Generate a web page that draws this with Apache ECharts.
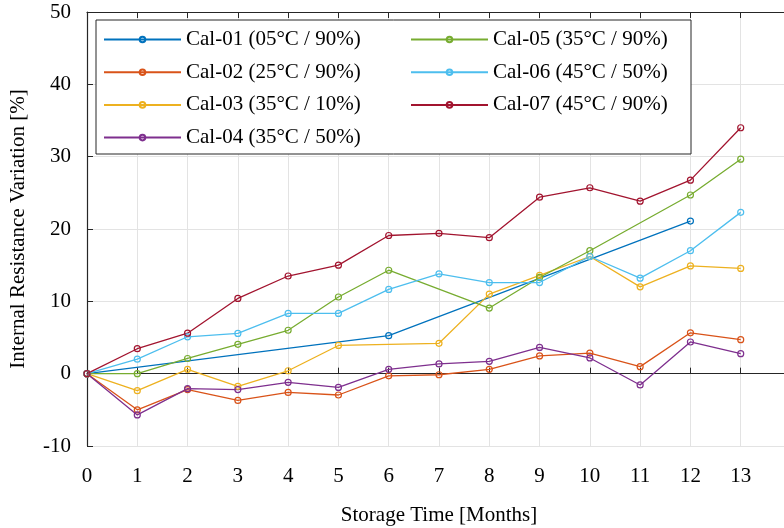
<!DOCTYPE html>
<html>
<head>
<meta charset="utf-8">
<script src="https://cdn.jsdelivr.net/npm/echarts@6/dist/echarts.min.js"></script>
<style>
  html, body { margin: 0; padding: 0; background: #fff; }
  #chart { width: 784px; height: 528px; }
</style>
</head>
<body>
<div id="chart"></div>
<script>
// months 0..13, null = no measurement that month
const months = [0, 1, 2, 3, 4, 5, 6, 7, 8, 9, 10, 11, 12, 13];
const names = [
  "Cal-01 (05°C / 90%)",
  "Cal-02 (25°C / 90%)",
  "Cal-03 (35°C / 10%)",
  "Cal-04 (35°C / 50%)",
  "Cal-05 (35°C / 90%)",
  "Cal-06 (45°C / 50%)",
  "Cal-07 (45°C / 90%)",
];
const colors = ["#0072BD", "#D95319", "#EDB120", "#7E2F8E", "#77AC30", "#4DBEEE", "#A2142F"];

const cal01 = [0, null, null, null, null, null, 5.25, null, null, null, null, null, 21.1, null];
const cal02 = [0, -5.0, -2.2, -3.7, -2.6, -2.95, -0.3, -0.15, 0.6, 2.45, 2.85, 0.97, 5.65, 4.7];
const cal03 = [0, -2.35, 0.6, -1.75, 0.4, 3.9, null, 4.2, 11.0, 13.6, 16.2, 12.0, 14.9, 14.55];
const cal04 = [0, -5.7, -2.07, -2.2, -1.2, -1.9, 0.6, 1.34, 1.7, 3.63, 2.17, -1.56, 4.38, 2.76];
const cal05 = [0, 0, 2.1, 4.05, 6.0, 10.6, 14.3, null, 9.07, 13.3, 17.0, null, 24.7, 29.65];
const cal06 = [0, 2.0, 5.1, 5.57, 8.33, 8.33, 11.65, 13.8, 12.6, 12.6, 16.2, 13.2, 17.0, 22.3];
const cal07 = [0, 3.45, 5.6, 10.4, 13.5, 15.0, 19.1, 19.4, 18.8, 24.4, 25.7, 23.85, 26.75, 34.0];

const yTicks = [-10, 0, 10, 20, 30, 40, 50];

const allValues = [cal01, cal02, cal03, cal04, cal05, cal06, cal07];
const font = "'Liberation Serif', 'DejaVu Serif', serif";
const axisColor = "#262626";

function pairs(vals) {
  const out = [];
  vals.forEach((v, i) => {
    if (v !== null) out.push([months[i], v]);
  });
  return out;
}

const series = allValues.map((vals, i) => ({
  name: names[i],
  type: "line",
  data: pairs(vals),
  symbol: "circle",
  symbolSize: 6,
  showSymbol: true,
  lineStyle: { color: colors[i], width: 1.3 },
  itemStyle: { color: "rgba(255,255,255,0)", borderColor: colors[i], borderWidth: 1.2 },
  emphasis: { disabled: true },
  animation: false,
}));

const legendCommon = {
  orient: "vertical",
  itemWidth: 77,
  itemHeight: 7,
  itemGap: 11.7,
  textStyle: { fontFamily: font, fontSize: 21, color: "#000", lineHeight: 20 },
  selectedMode: false,
};

const chart = echarts.init(document.getElementById("chart"));
chart.setOption({
  backgroundColor: "#fff",
  grid: { left: 87, top: 12, width: 704, height: 434, outerBoundsMode: "none", containLabel: false },
  graphic: [
    {
      type: "rect",
      z: 3,
      shape: { x: 96, y: 20, width: 595, height: 134 },
      style: { fill: "#fff", stroke: axisColor, lineWidth: 1 },
    },
  ],
  legend: [
    Object.assign({ left: 98, top: 24, data: names.slice(0, 4) }, legendCommon),
    Object.assign({ left: 405, top: 24, data: names.slice(4) }, legendCommon),
  ],
  xAxis: [
    {
      type: "value",
      min: 0,
      max: 14,
      interval: 1,
      name: "Storage Time [Months]",
      nameLocation: "middle",
      nameGap: 59,
      nameTextStyle: { fontFamily: font, fontSize: 21, color: "#000" },
      axisLine: { lineStyle: { color: axisColor, width: 1.2 } },
      axisTick: { inside: true, length: 6, lineStyle: { color: axisColor } },
      axisLabel: {
        fontFamily: font,
        fontSize: 21,
        color: "#000",
        margin: 20,
        formatter: (v) => (v > 13 ? "" : String(v)),
      },
      splitLine: { show: true, lineStyle: { color: "#e3e3e3", width: 1 } },
    },
    {
      type: "value",
      position: "top",
      min: 0,
      max: 14,
      interval: 1,
      axisLine: { lineStyle: { color: axisColor, width: 1.2 } },
      axisTick: { inside: true, length: 6, lineStyle: { color: axisColor } },
      axisLabel: { show: false },
      splitLine: { show: false },
    },
  ],
  yAxis: {
    type: "value",
    min: yTicks[0],
    max: yTicks[yTicks.length - 1],
    interval: 10,
    name: "Internal Resistance Variation [%]",
    nameLocation: "middle",
    nameGap: 58,
    nameTextStyle: { fontFamily: font, fontSize: 21, color: "#000" },
    axisLine: { show: true, lineStyle: { color: axisColor, width: 1.2 } },
    axisTick: { show: true, inside: true, length: 6, lineStyle: { color: axisColor } },
    axisLabel: { fontFamily: font, fontSize: 21, color: "#000", margin: 16 },
    splitLine: { show: true, lineStyle: { color: "#e3e3e3", width: 1 } },
  },
  series: series,
});
</script>
</body>
</html>
